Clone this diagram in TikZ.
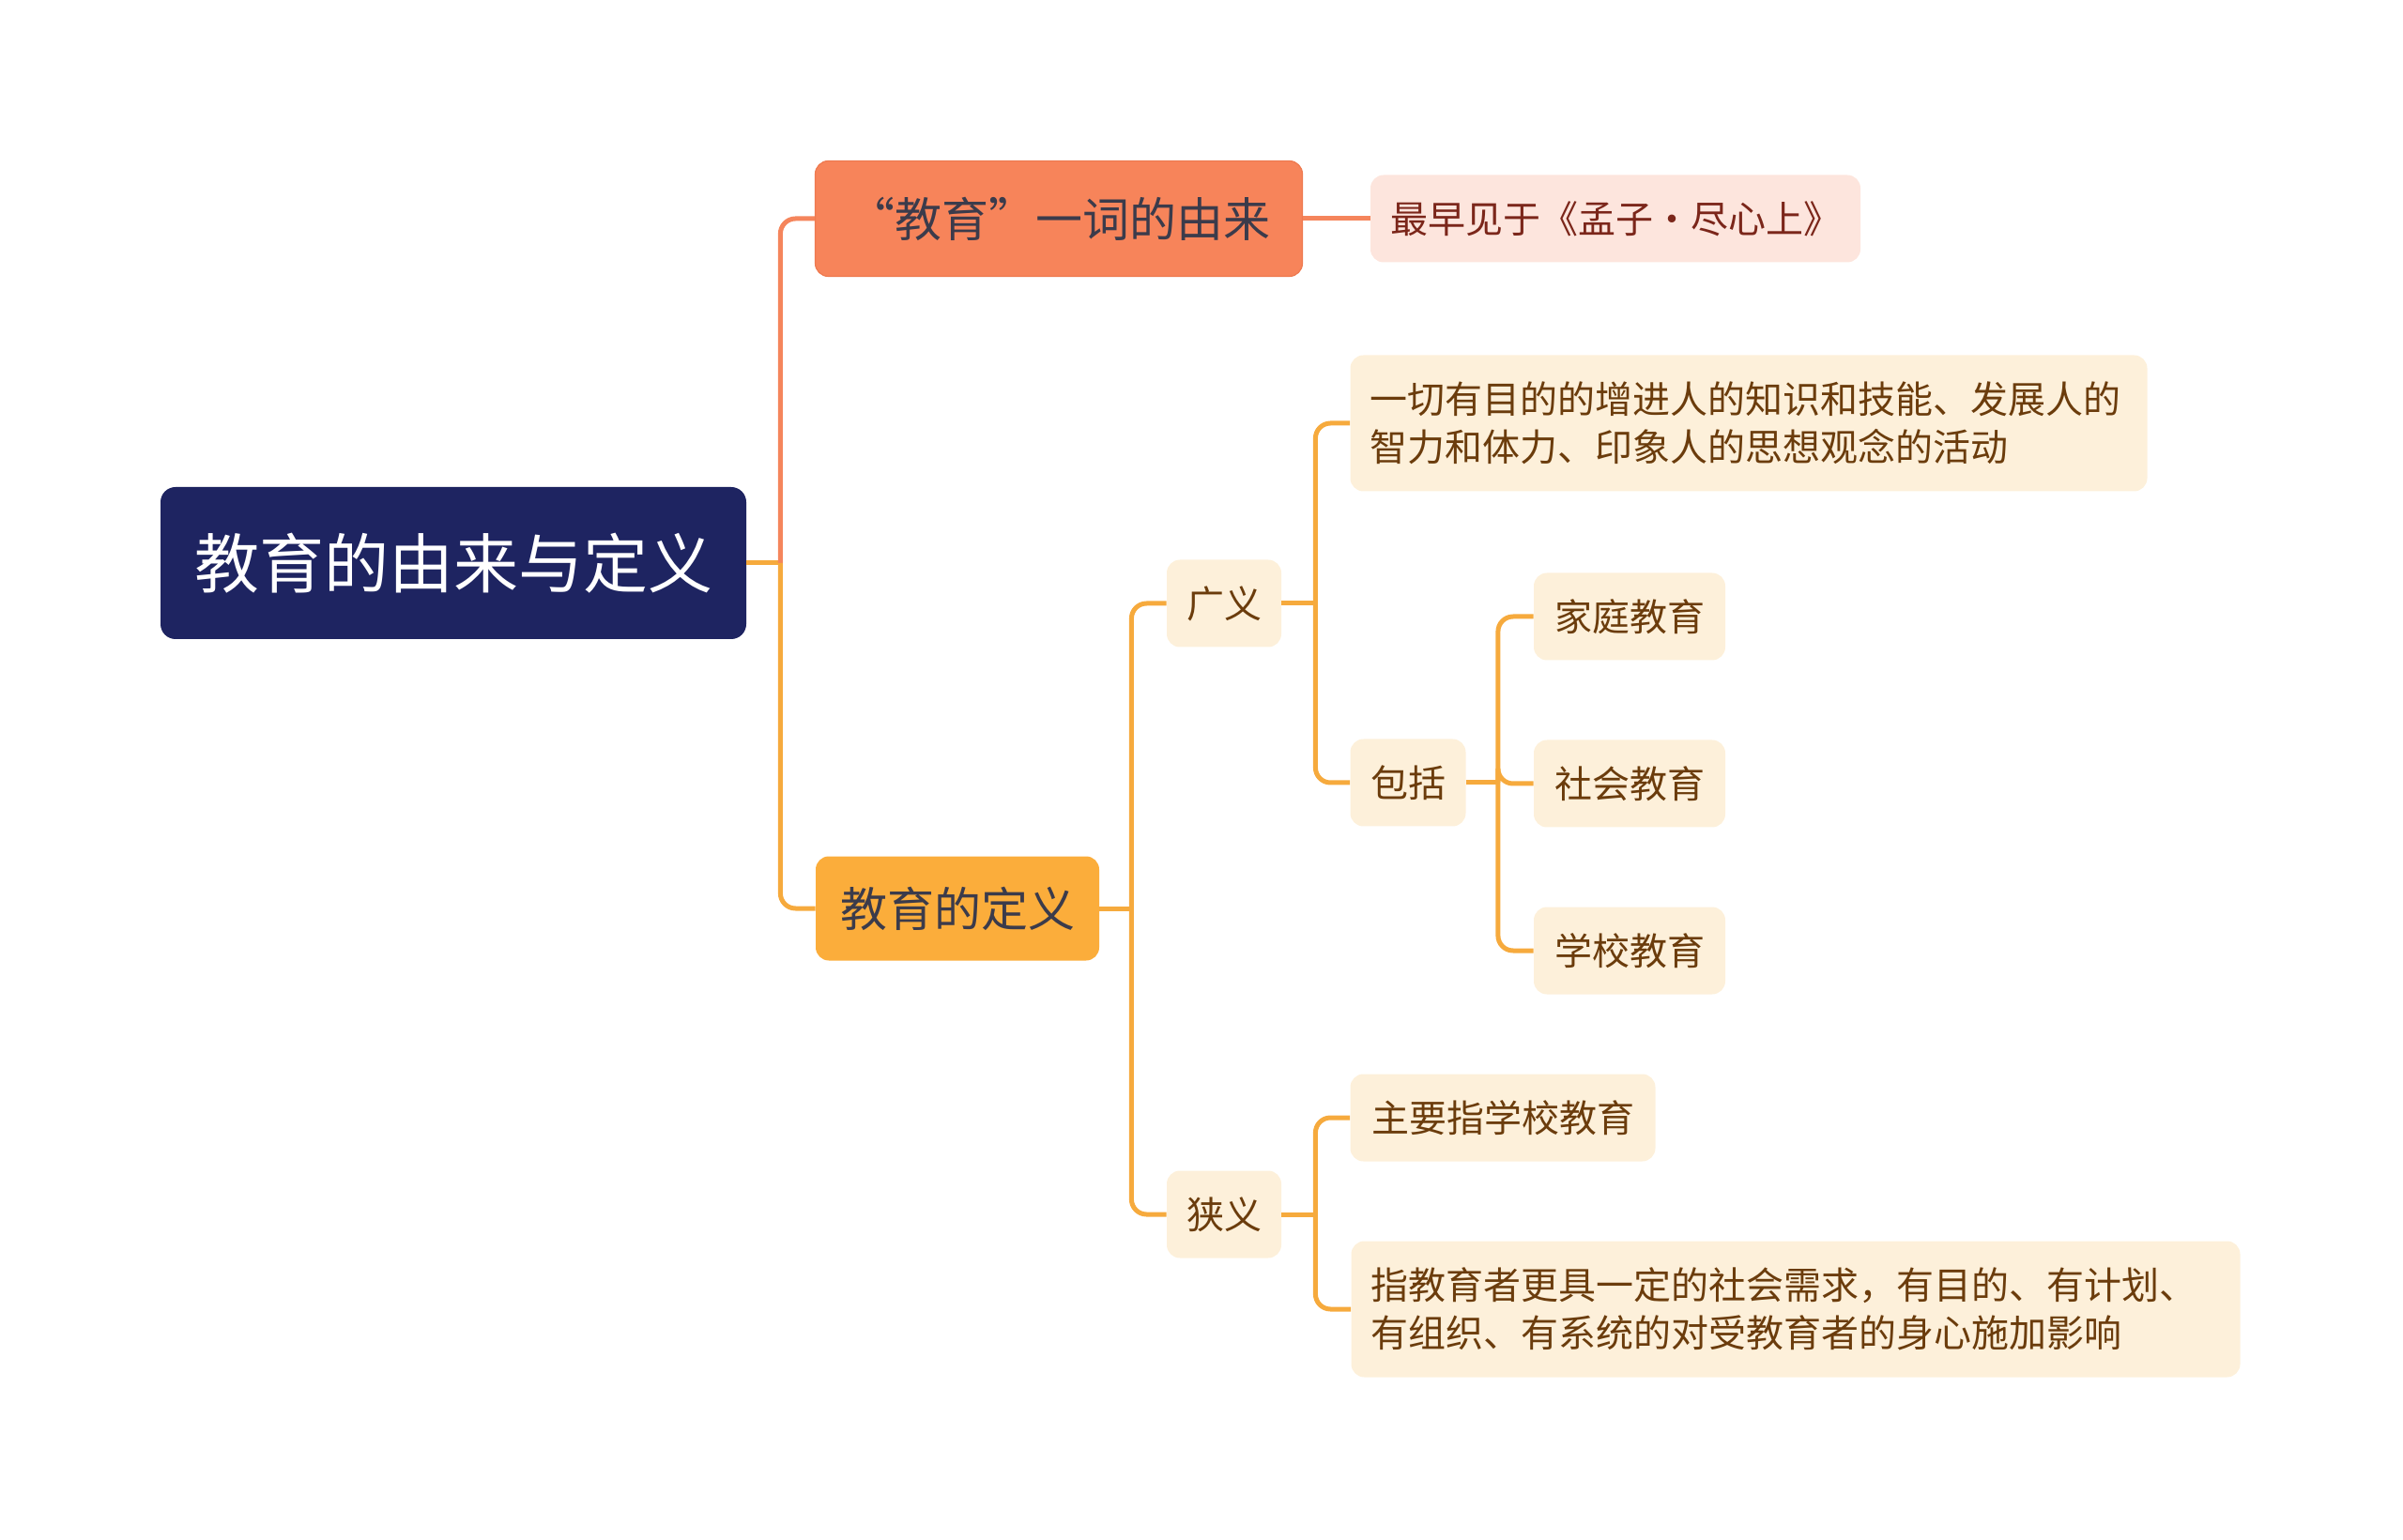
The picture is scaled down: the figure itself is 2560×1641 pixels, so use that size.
\documentclass[tikz,border=0pt]{standalone}
\usepackage{fontspec}
\setmainfont{Noto Sans CJK SC}
\usepackage{xcolor}
\usetikzlibrary{positioning}

\definecolor{navy}{HTML}{1E2461}
\definecolor{coralfill}{HTML}{F7845A}
\definecolor{coraledge}{HTML}{EE7A50}
\definecolor{amberfill}{HTML}{FBAD3B}
\definecolor{pinkfill}{HTML}{FDE5DD}
\definecolor{creamfill}{HTML}{FDF0DA}
\definecolor{topictext}{HTML}{3B3B4B}
\definecolor{pinktext}{HTML}{7B261A}
\definecolor{leaftext}{HTML}{6B3C0C}
\definecolor{coralline}{HTML}{F5855C}
\definecolor{amberline}{HTML}{F6AA3D}

\begin{document}
\begin{tikzpicture}[
  x=0.5pt, y=-0.5pt,
  box/.style     ={rounded corners=7pt, inner xsep=10.5pt, inner ysep=0pt, align=center},
  rootbox/.style ={box, fill=navy, text=white, rounded corners=8pt,
                   font=\fontsize{34.5pt}{40pt}\selectfont,
                   minimum width=312pt, minimum height=81pt},
  topicA/.style  ={box, fill=coralfill, draw=coraledge, line width=0.6pt, text=topictext,
                   font=\fontsize{25pt}{30pt}\selectfont, minimum height=61.5pt},
  topicB/.style  ={box, fill=amberfill, text=topictext,
                   font=\fontsize{25pt}{30pt}\selectfont, minimum height=55.5pt},
  pinkleaf/.style={box, fill=pinkfill, text=pinktext,
                   font=\fontsize{20pt}{25.3pt}\selectfont, minimum height=46.5pt},
  leaf/.style    ={box, fill=creamfill, text=leaftext,
                   font=\fontsize{20pt}{25.3pt}\selectfont, minimum height=46.5pt},
  wideleaf/.style={leaf, align=left, minimum height=72.5pt},
  lc/.style      ={draw=coralline, line width=2.5pt, rounded corners=8pt},
  lo/.style      ={draw=amberline, line width=2.5pt, rounded corners=8pt},
]
\useasboundingbox (0,0) rectangle (2560,1641);

% ---------------- ROOT ----------------
\node[rootbox] (root) at (483,600) {教育的由来与定义};

% ---------------- FIRST LEVEL ----------------
\node[topicA, minimum width=259.5pt] (word) at (1128,233) {“教育”一词的由来};
\node[topicB, minimum width=151pt]   (defn) at (1020,968) {教育的定义};

% ---------------- ORIGIN ----------------
\node[pinkleaf, minimum width=259.5pt] (mencius) at (1721,233) {最早见于《孟子·尽心上》};

% ---------------- DEFINITION ----------------
\node[leaf, minimum width=60.5pt] (broad)  at (1304,643)  {广义};
\node[leaf, minimum width=60.5pt] (narrow) at (1304,1294) {狭义};
\node[wideleaf, text width=403.5pt] (broaddef) at (1863,451)
  {一切有目的的增进人的知识和技能、发展人的\\智力和体力、印象人的思想观念的活动};
\node[leaf, minimum width=61.5pt] (incl) at (1500,834) {包括};
\node[leaf, minimum width=102pt] (family)  at (1736,657)  {家庭教育};
\node[leaf, minimum width=102pt] (society) at (1736,835)  {社会教育};
\node[leaf, minimum width=102pt] (school)  at (1736,1013) {学校教育};
\node[leaf, minimum width=162.5pt] (mainly) at (1601,1191) {主要指学校教育};
\node[wideleaf, text width=452.5pt] (narrowdef) at (1913,1395)
  {指教育者更具一定的社会需求，有目的、有计划、\\有组织、有系统的对受教育者的身心施加影响};

% ---------------- branches ----------------
\draw[lo] (root.east) -- ++(36,0) coordinate (j0);
\draw[lc] (j0) |- (word.west);
\draw[lo] (j0) |- (defn.west);
\draw[lc] (word.east) -- (mencius.west);

\draw[lo] (defn.east) -- ++(34,0) coordinate (j1);
\draw[lo] (j1) |- (broad.west);
\draw[lo] (j1) |- (narrow.west);

\draw[lo] (broad.east) -- ++(36,0) coordinate (j2);
\draw[lo] (j2) |- (broaddef.west);
\draw[lo] (j2) |- (incl.west);

\draw[lo] (incl.east) -- ++(34,0) coordinate (j3);
\draw[lo] (j3) |- (family.west);
\draw[lo] (j3) |- (society.west);
\draw[lo] (j3) |- (school.west);

\draw[lo] (narrow.east) -- ++(36,0) coordinate (j4);
\draw[lo] (j4) |- (mainly.west);
\draw[lo] (j4) |- (narrowdef.west);
\end{tikzpicture}
\end{document}
